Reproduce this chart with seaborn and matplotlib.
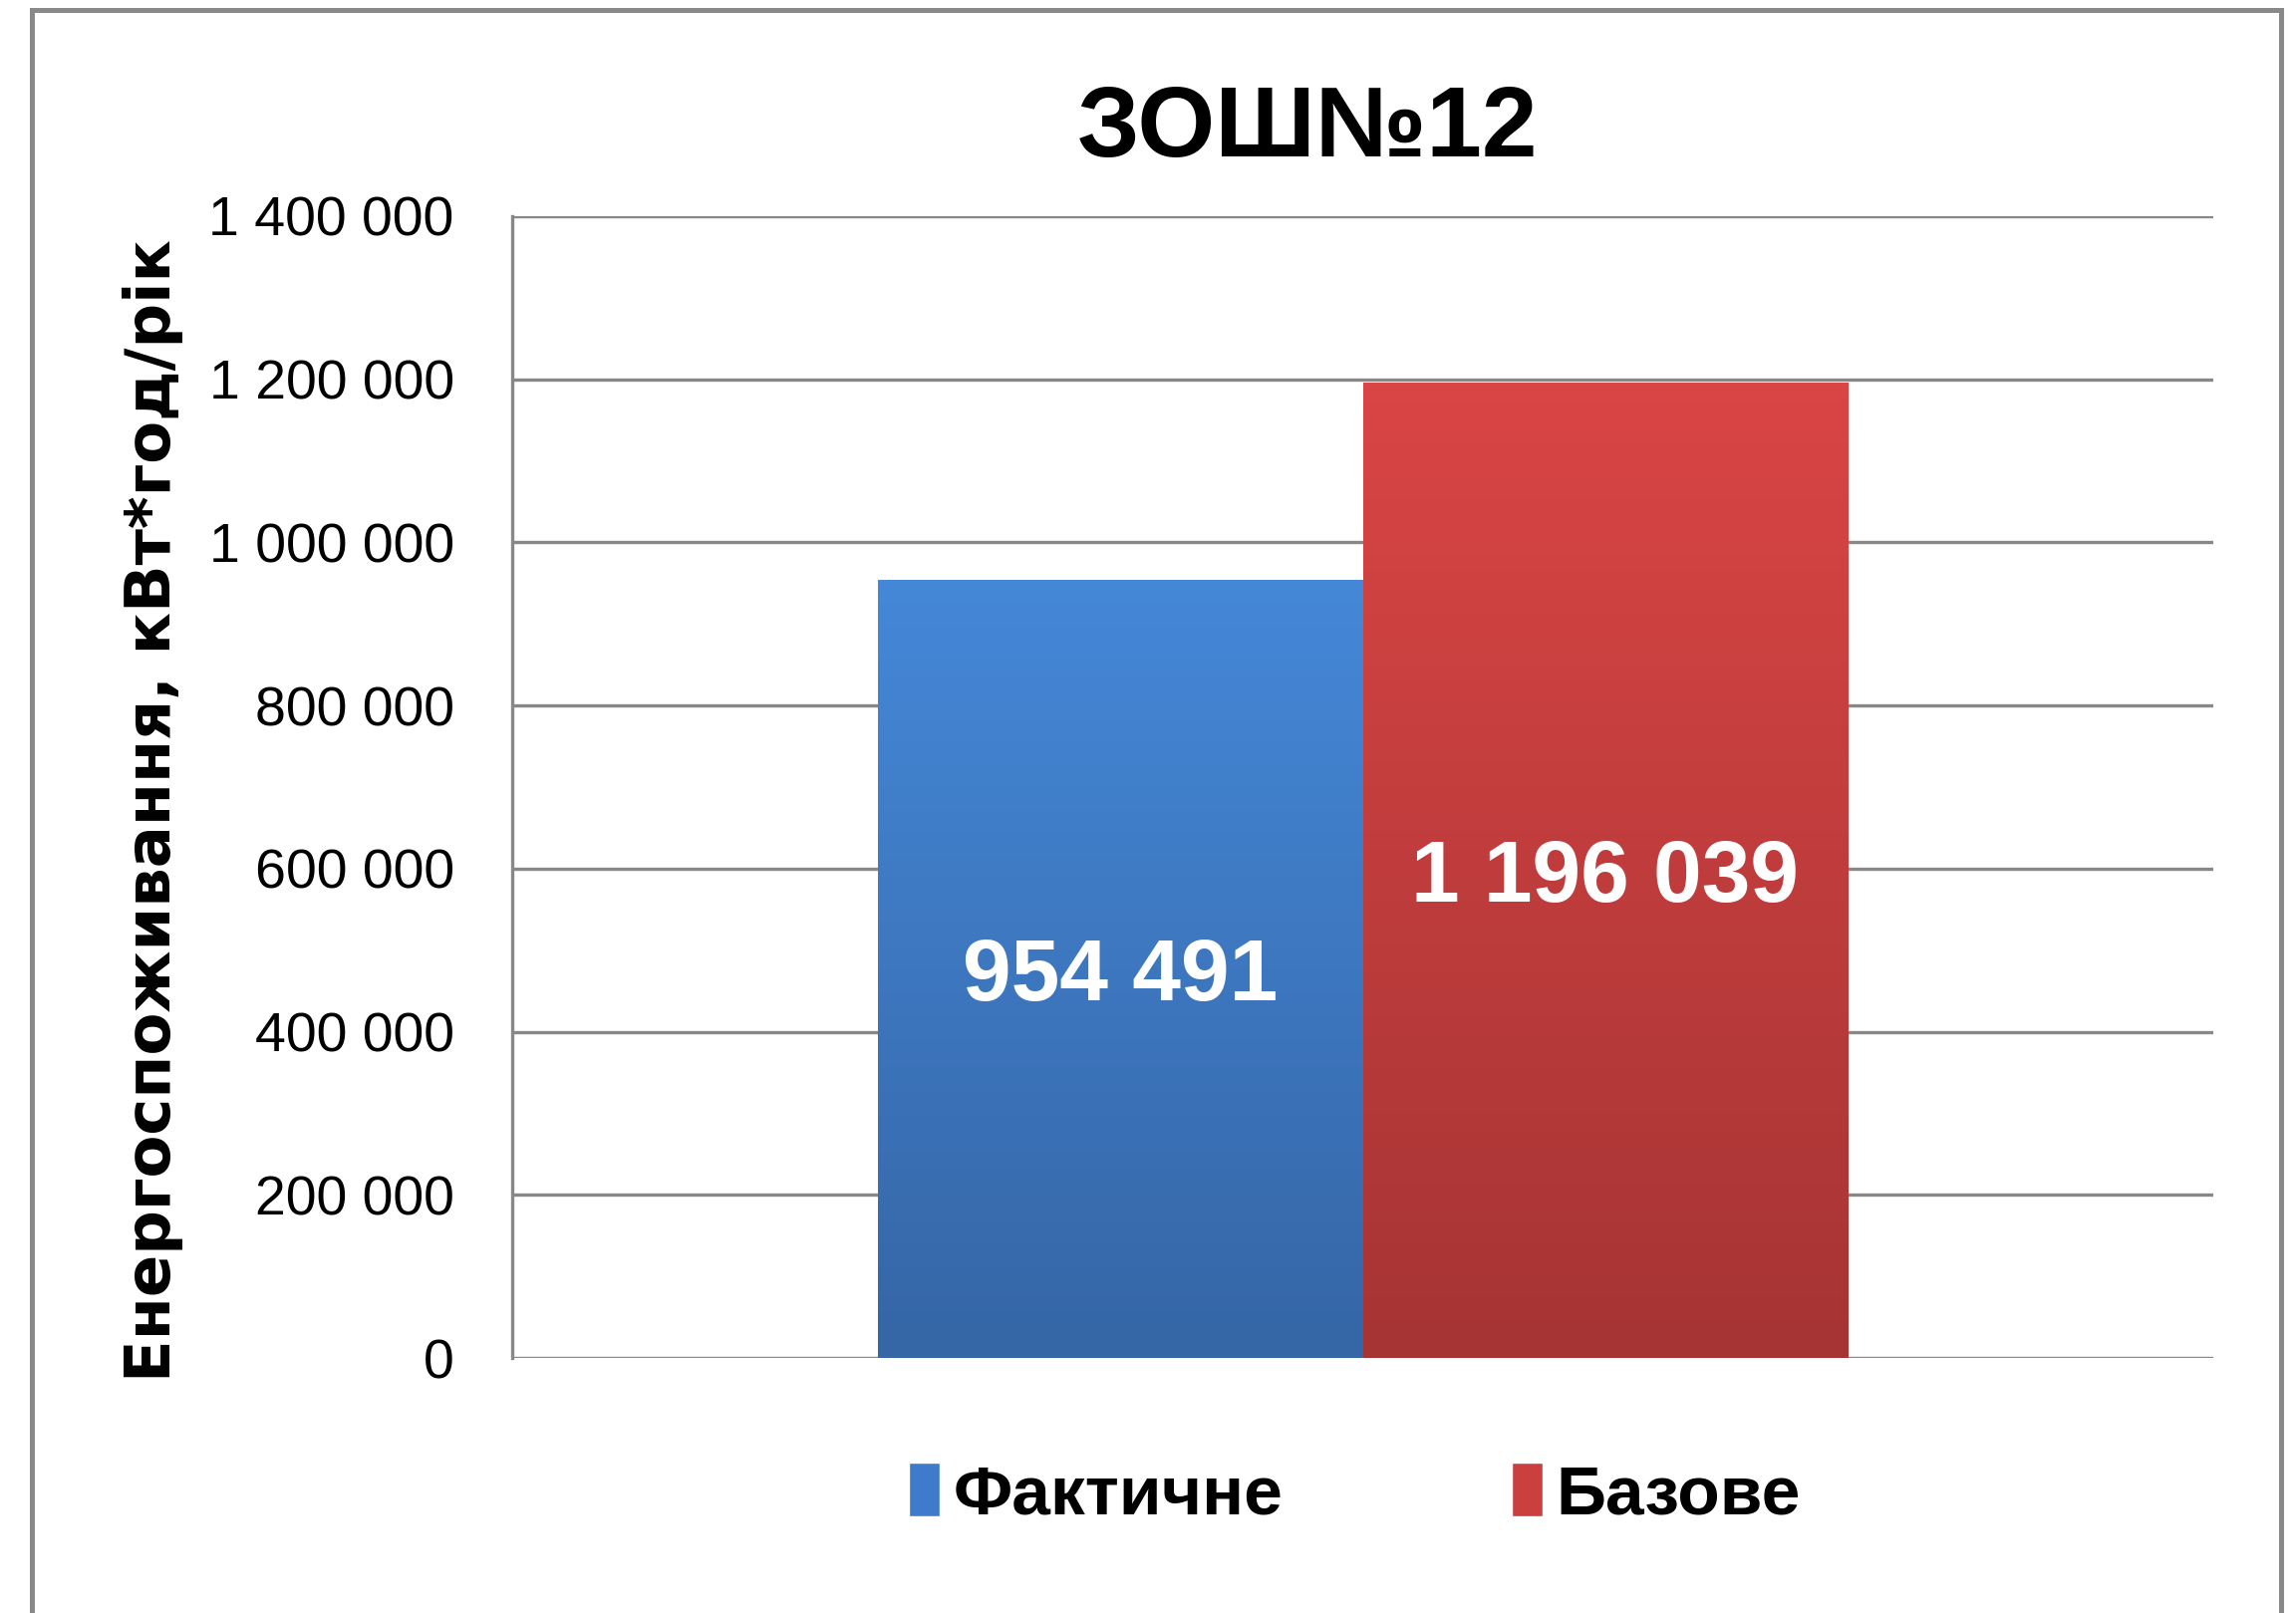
import numpy as np
import pandas as pd
import matplotlib
matplotlib.use("Agg")
import matplotlib.pyplot as plt
import seaborn as sns
from matplotlib.patches import Rectangle
from matplotlib.colors import LinearSegmentedColormap

# ---- data ----
title = "ЗОШ№12"
categories = ["ЗОШ№12"]
series = ["Фактичне", "Базове"]
values = [954491, 1196039]
yticks = [0, 200000, 400000, 600000, 800000, 1000000, 1200000, 1400000]
ylabel = "Енергоспоживання, кВт*год/рік"

sns.set_style("white")
FONT = ["Liberation Sans", "DejaVu Sans"]
plt.rcParams["font.family"] = FONT
plt.rcParams["text.color"] = "black"

fig = plt.figure(figsize=(23.04, 16.19), dpi=100)
fig.patch.set_facecolor("white")
ax = fig.add_axes([0.2231, 0.1581, 0.7409, 0.7079])

df = pd.DataFrame({"school": categories * len(series), "type": series, "value": values})
colors = {"Фактичне": "#3F7BCB", "Базове": "#CC3F3F"}
sns.barplot(data=df, x="school", y="value", hue="type", hue_order=series,
            palette=colors, width=0.57, saturation=1, ax=ax, legend=True)

# gradient fill on bars
grads = {0: ("#4588D8", "#3566A6"), 1: ("#DA4545", "#A63434")}
bars = [p for p in ax.patches if p.get_height() > 0]
bars.sort(key=lambda p: p.get_x())
for i, p in enumerate(bars):
    top, bot = grads[i]
    cmap = LinearSegmentedColormap.from_list("g", [bot, top])
    x0, y0, w, h = p.get_x(), p.get_y(), p.get_width(), p.get_height()
    grad = np.linspace(0, 1, 256).reshape(-1, 1)
    im = ax.imshow(grad, cmap=cmap, aspect="auto", origin="lower",
                   extent=[x0, x0 + w, y0, y0 + h], zorder=p.get_zorder() + 0.1)
    im.set_clip_path(p)
    p.set_edgecolor("none")

ax.set_xlim(-0.5, 0.5)
ax.set_ylim(0, 1400000)
ax.set_yticks(yticks)
ax.set_yticklabels([f"{v:,}".replace(",", " ") for v in yticks])
ax.set_xticks([])
ax.set_xlabel("")

ax.grid(axis="y", color="#888888", linewidth=2.4, zorder=0)
ax.set_axisbelow(True)
for s in ["top", "right", "bottom"]:
    ax.spines[s].set_visible(False)
ax.spines["left"].set_color("#888888")
ax.spines["left"].set_linewidth(2.4)
ax.tick_params(axis="y", length=16, width=2.4, color="#888888", pad=26,
               labelsize=40, labelcolor="black")

# bar labels
for i, cont in enumerate(ax.containers):
    labs = [f"{int(v):,}".replace(",", " ") for v in cont.datavalues]
    ax.bar_label(cont, labels=labs, label_type="center", color="white",
                 fontsize=63, fontweight="bold", family=FONT, zorder=5)
for t in ax.texts:
    t.set_zorder(6)
    x, y = t.get_position()
    t.set_position((x, y))
    t.set_va("center_baseline")

# y label
ax.set_ylabel(ylabel, fontsize=45, fontweight="bold", family=["DejaVu Sans"], color="black")
ax.yaxis.label.set_verticalalignment("center")
ax.yaxis.set_label_coords(-0.211, 0.479)

# title
ax.set_title(title, x=0.4675, y=1.075, va="center", pad=0, fontsize=72,
             fontweight="bold", family=FONT, color="black")

# legend
sns.move_legend(ax, "center", bbox_to_anchor=(0.59, 0.073), bbox_transform=fig.transFigure,
                ncol=2, frameon=False, title=None, handlelength=0.45, handleheight=0.8,
                handletextpad=0.2, columnspacing=3.3,
                prop={"family": FONT, "weight": "bold", "size": 50})
for t in ax.get_legend().get_texts():
    t.set_color("black")

# outer border
fig.patches.append(Rectangle((0.0139, -0.05), 0.9796, 1.0438, transform=fig.transFigure,
                             fill=False, edgecolor="#898989", linewidth=3.6))

fig.savefig("out.png", dpi=100)
